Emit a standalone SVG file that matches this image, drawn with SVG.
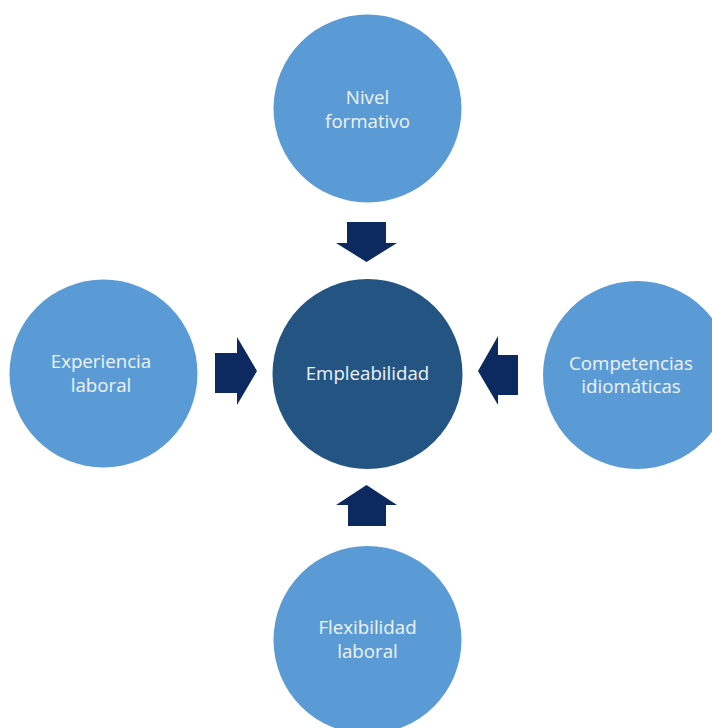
<svg xmlns="http://www.w3.org/2000/svg" width="712" height="728" viewBox="0 0 712 728">
<style>
.c{fill:#5b9bd5}
.m{fill:#245482}
.a{fill:#0c2a5f}
.t{font-family:"Open Sans","Noto Sans","Liberation Sans",sans-serif;font-size:18.7px;fill:#eef3fa;text-anchor:middle}
</style>
<rect width="712" height="728" fill="#ffffff"/>
<g id="connectors">
<polygon class="a" points="347,222 386,222 386,243 397,243 366.5,262 336,243 347,243"/>
<polygon class="a" points="348,526 386,526 386,505 397,505 366.5,485 336,505 348,505"/>
<polygon class="a" points="215,353 237,353 237,337 257,371 237,405 237,393 215,393"/>
<polygon class="a" points="518,355 498,355 498,336 478,371 498,405 498,395 518,395"/>
</g>
<g id="node-nivel">
<circle class="c" cx="367.5" cy="108.5" r="94"/>
<text class="t" x="367.5" y="104">Nivel</text>
<text class="t" x="367.5" y="128">formativo</text>
</g>
<g id="node-empleabilidad">
<circle class="m" cx="367.5" cy="374" r="95"/>
<text class="t" x="367.5" y="380">Empleabilidad</text>
</g>
<g id="node-experiencia">
<circle class="c" cx="103.5" cy="373.5" r="94"/>
<text class="t" x="101" y="368">Experiencia</text>
<text class="t" x="101" y="392">laboral</text>
</g>
<g id="node-competencias">
<circle class="c" cx="637" cy="375" r="94"/>
<text class="t" x="631" y="370">Competencias</text>
<text class="t" x="631" y="393">idiomáticas</text>
</g>
<g id="node-flexibilidad">
<circle class="c" cx="367.5" cy="640" r="94"/>
<text class="t" x="367.5" y="634">Flexibilidad</text>
<text class="t" x="367.5" y="658">laboral</text>
</g>
</svg>
